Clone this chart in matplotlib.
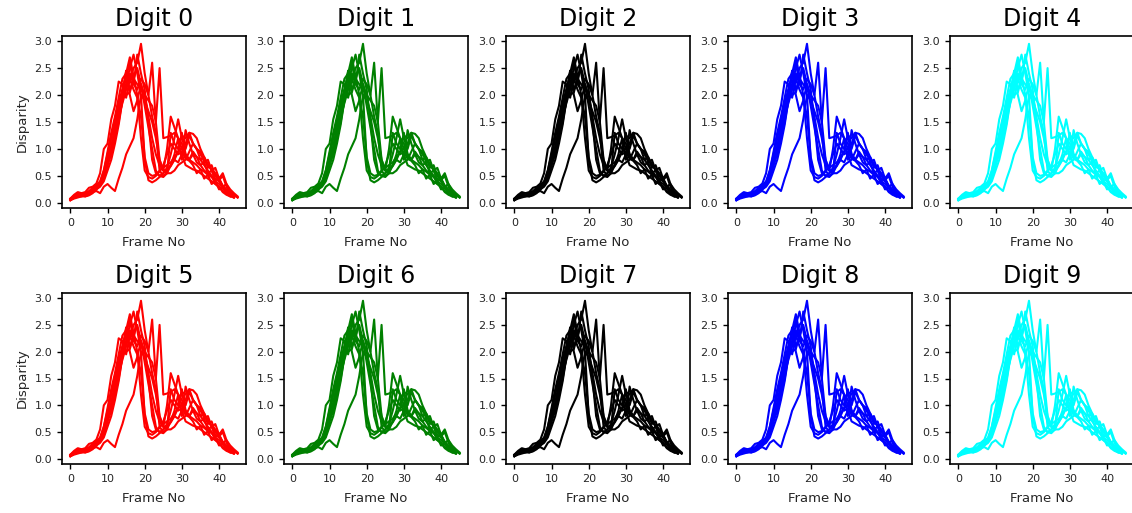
import matplotlib
matplotlib.use("Agg")
import matplotlib.pyplot as plt

digits = ["Digit 0", "Digit 1", "Digit 2", "Digit 3", "Digit 4",
          "Digit 5", "Digit 6", "Digit 7", "Digit 8", "Digit 9"]
colors = ["red", "green", "black", "blue", "cyan",
          "red", "green", "black", "blue", "cyan"]

c1 = [0.08,0.15,0.20,0.18,0.20,0.28,0.30,0.36,0.55,1.00,1.10,1.55,1.80,2.25,2.20,1.95,2.30,2.10,1.95,1.60,0.85,0.55,0.50,0.52,0.58,0.70,0.90,1.10,1.00,0.90,0.95,0.82,0.78,0.70,0.55,0.62,0.45,0.52,0.35,0.40,0.25,0.28,0.18,0.15]
c2 = [0.05,0.10,0.12,0.15,0.12,0.15,0.20,0.22,0.18,0.30,0.35,0.28,0.22,0.45,0.65,0.90,1.05,1.20,1.55,2.00,1.90,1.70,1.50,1.20,0.80,0.60,0.55,0.55,0.60,0.70,0.75,0.80,0.95,1.10,1.00,0.90,0.80,0.70,0.62,0.55,0.45,0.32,0.25,0.20,0.15,0.10]
c3 = [0.06,0.10,0.12,0.12,0.15,0.18,0.22,0.28,0.32,0.45,0.70,0.90,1.20,1.50,1.90,2.45,2.30,2.50,2.60,2.95,2.40,2.00,1.60,1.30,0.60,0.50,0.55,0.70,0.90,1.20,0.80,1.35,1.10,0.90,0.85,0.80,0.70,0.60,0.50,0.45,0.40,0.30,0.20,0.15,0.10]
c4 = [0.05,0.08,0.10,0.12,0.12,0.14,0.18,0.25,0.35,0.55,0.85,1.20,1.55,1.85,2.10,2.00,2.05,2.30,2.20,2.10,2.00,1.90,1.80,1.50,2.50,1.20,1.22,1.25,1.30,1.20,1.00,1.10,1.30,1.28,1.20,1.00,0.85,0.72,0.60,0.50,0.42,0.50,0.30,0.20,0.15,0.10]
c5 = [0.07,0.12,0.15,0.16,0.15,0.20,0.25,0.30,0.35,0.50,0.75,1.00,1.30,1.60,1.85,2.10,2.40,2.20,2.10,2.30,2.20,2.00,2.60,1.50,0.80,0.60,1.00,1.60,1.40,1.20,1.10,0.90,0.80,0.90,0.75,0.70,0.60,0.55,0.50,0.35,0.30,0.20,0.15,0.12]
c6 = [0.05,0.10,0.14,0.16,0.18,0.20,0.22,0.25,0.30,0.40,0.60,0.80,1.10,1.45,1.90,2.20,2.50,2.75,2.40,2.00,0.80,0.42,0.38,0.42,0.48,0.55,0.60,0.68,0.80,0.75,0.90,0.70,0.66,0.62,0.60,0.55,0.50,0.45,0.40,0.35,0.30,0.22,0.18,0.12,0.10]
c7 = [0.06,0.11,0.13,0.15,0.17,0.20,0.24,0.30,0.35,0.50,0.80,1.05,1.40,1.70,2.00,2.35,2.60,2.20,2.75,2.40,2.10,1.50,0.80,0.55,0.50,0.48,0.55,1.30,1.10,1.00,1.25,1.20,1.30,1.10,1.00,0.80,0.85,0.65,0.70,0.50,0.45,0.30,0.35,0.18,0.12]
c8 = [0.08,0.12,0.15,0.17,0.16,0.20,0.26,0.30,0.38,0.60,0.90,1.25,1.50,1.80,2.10,2.40,2.10,2.30,2.50,2.20,1.80,1.40,1.00,0.60,0.50,0.55,0.65,0.90,1.20,1.55,1.20,1.00,1.25,1.10,1.00,0.95,0.75,0.80,0.60,0.65,0.45,0.55,0.35,0.25,0.18,0.12]
c9 = [0.06,0.10,0.13,0.15,0.16,0.18,0.22,0.28,0.32,0.45,0.70,1.00,1.40,1.70,2.00,2.45,2.00,1.70,1.90,2.20,2.00,1.60,1.20,0.90,0.70,0.60,0.62,0.70,0.80,0.95,1.00,0.85,0.80,0.95,0.85,0.70,0.75,0.55,0.60,0.42,0.45,0.28,0.22,0.16,0.12]
c10 = [0.07,0.13,0.17,0.18,0.18,0.22,0.28,0.33,0.40,0.60,0.95,1.30,1.60,1.95,2.30,2.40,2.70,2.35,2.00,1.20,0.60,0.48,0.45,0.50,0.60,0.65,0.70,0.75,0.85,0.95,1.30,0.90,0.80,0.75,0.70,0.62,0.58,0.52,0.48,0.40,0.35,0.28,0.20,0.15,0.10]
curves = [c1, c2, c3, c4, c5, c6, c7, c8, c9, c10]

xticks = [0, 10, 20, 30, 40]
yticks = [0.0, 0.5, 1.0, 1.5, 2.0, 2.5, 3.0]

W, H = 1132, 513
fig = plt.figure(figsize=(W / 100, H / 100), dpi=100)

for i, (name, col) in enumerate(zip(digits, colors)):
    r, c = divmod(i, 5)
    left = (62 + 222 * c) / W
    if r == 0:
        bottom = 1 - 208 / H
        height = 172 / H
    else:
        bottom = 1 - 464 / H
        height = 171 / H
    ax = fig.add_axes([left, bottom, 184 / W, height])
    for cv in curves:
        ax.plot(range(len(cv)), cv, color=col, lw=1.5)
    ax.set_xticks(xticks)
    ax.set_yticks(yticks)
    ax.tick_params(labelsize=8, length=3.5, width=1.0, direction="out",
                   labelcolor="#262626")
    for s in ax.spines.values():
        s.set_linewidth(1.2)
    ax.set_title(name, fontsize=17, pad=7)
    ax.set_xlabel("Frame No", fontsize=9.5, labelpad=6, color="#262626")
    if c == 0:
        ax.set_ylabel("Disparity", fontsize=9.5, color="#262626")

fig.savefig("out.png", dpi=100)
